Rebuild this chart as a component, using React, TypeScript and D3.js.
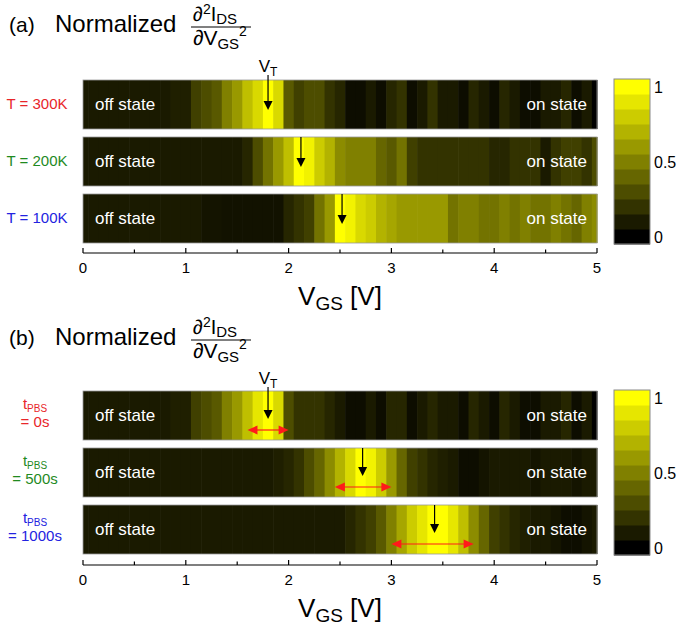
import React from "react";
import * as d3 from "d3";

// ---- data ----
const VGS: number[] = d3.range(51).map((i) => i / 10); // column centres, 0.0 .. 5.0 V

const T300 = [0.1,0.1,0.1,0.1,0.1,0.1,0.1,0.1,0.1,0.12, 0.12,0.25,0.3,0.35,0.5,0.6,0.75,0.85,1.0,0.85, 0.35,0.25,0.3,0.3,0.2,0.15,0.05,0.05,0.1,0.05, 0.15,0.2,0.05,0.1,0.2,0.1,0.1,0.05,0.15,0.1, 0.05,0.15,0.1,0.05,0.05,0.1,0.1,0.15,0.05,0.1,0.0];
const T200 = [0.1,0.1,0.1,0.1,0.1,0.1,0.1,0.1,0.1,0.1, 0.1,0.1,0.1,0.1,0.1,0.1,0.15,0.3,0.45,0.6, 0.75,1.0,0.95,0.8,0.7,0.55,0.5,0.5,0.5,0.4, 0.35,0.45,0.25,0.2,0.2,0.2,0.2,0.2,0.2,0.2, 0.15,0.15,0.2,0.2,0.2,0.1,0.2,0.25,0.25,0.2,0.3];
const T100 = [0.1,0.1,0.1,0.1,0.1,0.1,0.1,0.1,0.1,0.1, 0.1,0.1,0.08,0.08,0.07,0.07,0.07,0.07,0.07,0.07, 0.15,0.2,0.25,0.45,0.6,1.0,0.95,0.85,0.8,0.7, 0.65,0.6,0.6,0.6,0.6,0.6,0.45,0.5,0.5,0.45, 0.45,0.5,0.45,0.5,0.45,0.45,0.5,0.45,0.4,0.5,0.55];

const P0 = [0.1,0.1,0.1,0.1,0.1,0.1,0.1,0.1,0.1,0.12, 0.12,0.25,0.3,0.35,0.5,0.6,0.75,0.9,1.0,0.85, 0.3,0.2,0.2,0.2,0.15,0.1,0.05,0.05,0.1,0.05, 0.15,0.15,0.05,0.1,0.15,0.1,0.1,0.05,0.15,0.1, 0.05,0.15,0.1,0.05,0.05,0.1,0.1,0.15,0.05,0.1,0.0];
const P500 = [0.1,0.1,0.1,0.1,0.1,0.1,0.1,0.1,0.1,0.1, 0.1,0.1,0.1,0.1,0.1,0.1,0.1,0.1,0.1,0.12, 0.15,0.2,0.3,0.4,0.55,0.7,0.85,1.0,0.95,0.8, 0.6,0.4,0.25,0.2,0.15,0.12,0.1,0.05,0.05,0.08, 0.1,0.1,0.1,0.1,0.08,0.1,0.1,0.1,0.08,0.1,0.1];
const P1000 = [0.1,0.1,0.1,0.1,0.1,0.1,0.1,0.1,0.1,0.1, 0.1,0.1,0.1,0.1,0.1,0.1,0.1,0.1,0.1,0.1, 0.1,0.1,0.1,0.1,0.1,0.1,0.15,0.2,0.25,0.35, 0.5,0.65,0.8,0.9,1.0,1.0,0.9,0.75,0.55,0.4, 0.25,0.2,0.15,0.12,0.1,0.1,0.08,0.05,0.05,0.08,0.1];

const rowsA = [
  { label: "T = 300K", color: "#e8262a", values: T300, vt: 1.8 },
  { label: "T = 200K", color: "#1f8a1f", values: T200, vt: 2.12 },
  { label: "T = 100K", color: "#2323e0", values: T100, vt: 2.52 },
];
const rowsB = [
  { label: "= 0s", color: "#e8262a", values: P0, vt: 1.8, range: [1.6, 2.0] },
  { label: "= 500s", color: "#1f8a1f", values: P500, vt: 2.72, range: [2.45, 3.0] },
  { label: "= 1000s", color: "#2323e0", values: P1000, vt: 3.42, range: [3.0, 3.8] },
];
const majorTicks = [0, 1, 2, 3, 4, 5];
const minorTicks = [0.5, 1.5, 2.5, 3.5, 4.5];
const cbarLevels = d3.range(11).map((i) => i / 10);
const cbarLabels = [0, 0.5, 1];

// ---- layout ----
const FONT = "'Liberation Sans', Arial, Helvetica, sans-serif";
const x = d3.scaleLinear().domain([0, 5]).range([83, 597]);
const color = d3.scaleLinear<string>().domain([0, 1]).range(["#000000", "#ffff00"]).clamp(true);
const STRIP_H = 49;
const STRIP_GAP = 57;
const CB_X = 614, CB_W = 36;

function Strip({ values, top }: { values: number[]; top: number }) {
  return (
    <g>
      {VGS.map((v, i) => {
        const x0 = x(Math.max(0, v - 0.05));
        const x1 = x(Math.min(5, v + 0.05));
        return <rect key={i} x={x0} y={top} width={x1 - x0 + 0.6} height={STRIP_H} fill={color(values[i])} />;
      })}
      <rect x={x(0)} y={top} width={x(5) - x(0)} height={STRIP_H} fill="none" stroke="#9a9a9a" strokeWidth={0.8} />
      <text x={x(0) + 12} y={top + 30} fill="#fff" fontSize={17} fontFamily={FONT}>off state</text>
      <text x={x(5) - 10} y={top + 30} fill="#fff" fontSize={17} fontFamily={FONT} textAnchor="end">on state</text>
    </g>
  );
}

function DownArrow({ xv, y0, y1 }: { xv: number; y0: number; y1: number }) {
  const cx = x(xv);
  return (
    <g>
      <line x1={cx} x2={cx} y1={y0} y2={y1 - 8} stroke="#000" strokeWidth={1.2} />
      <path d={`M${cx - 4.5},${y1 - 9} L${cx + 4.5},${y1 - 9} L${cx},${y1} Z`} fill="#000" />
    </g>
  );
}

function RedRange({ r, y }: { r: number[]; y: number }) {
  const a = x(r[0]), b = x(r[1]);
  return (
    <g>
      <line x1={a + 8} x2={b - 8} y1={y} y2={y} stroke="#ff1a1a" strokeWidth={1.2} />
      <path d={`M${a},${y} L${a + 10},${y - 4.5} L${a + 10},${y + 4.5} Z`} fill="#ff1a1a" />
      <path d={`M${b},${y} L${b - 10},${y - 4.5} L${b - 10},${y + 4.5} Z`} fill="#ff1a1a" />
    </g>
  );
}

function Axis({ y }: { y: number }) {
  return (
    <g>
      <line x1={x(0)} x2={x(5)} y1={y} y2={y} stroke="#000" strokeWidth={1.2} />
      {majorTicks.map((t) => (
        <g key={t}>
          <line x1={x(t)} x2={x(t)} y1={y} y2={y - 5} stroke="#000" strokeWidth={1.2} />
          <text x={x(t)} y={y + 20} textAnchor="middle" fontSize={15} fontFamily={FONT}>{t}</text>
        </g>
      ))}
      {minorTicks.map((t) => (
        <line key={t} x1={x(t)} x2={x(t)} y1={y} y2={y - 3.5} stroke="#000" strokeWidth={1.2} />
      ))}
      <text x={x(2.5)} y={y + 52} textAnchor="middle" fontSize={26} fontFamily={FONT}>
        V<tspan fontSize={19} dy={5}>GS</tspan><tspan dy={-5}> [V]</tspan>
      </text>
    </g>
  );
}

function ColorBar({ top, bottom }: { top: number; bottom: number }) {
  const bh = (bottom - top) / cbarLevels.length;
  return (
    <g>
      {cbarLevels.map((l, i) => (
        <rect key={i} x={CB_X} y={bottom - (i + 1) * bh} width={CB_W} height={bh + 0.5} fill={color(l)} />
      ))}
      <rect x={CB_X} y={top} width={CB_W} height={bottom - top} fill="none" stroke="#8a8a8a" strokeWidth={1} />
      {cbarLabels.map((l) => {
        const yy = bottom - bh / 2 - l * (bottom - top - bh);
        return (
          <text key={l} x={CB_X + 40} y={yy + 6} fontSize={16} fontFamily={FONT}>{l}</text>
        );
      })}
    </g>
  );
}

function Title({ letter, dy }: { letter: string; dy: number }) {
  return (
    <g transform={`translate(0,${dy})`}>
      <text x={9} y={32} fontSize={21} fontFamily={FONT}>({letter})</text>
      <text x={55} y={32} fontSize={24} fontFamily={FONT}>Normalized</text>
      <text x={193} y={21} fontSize={20} fontFamily={FONT}>
        ∂<tspan fontSize={14} dy={-7}>2</tspan><tspan dy={7}>I</tspan><tspan fontSize={15} dy={3}>DS</tspan>
      </text>
      <line x1={191} x2={251} y1={27} y2={27} stroke="#000" strokeWidth={1} />
      <text x={193} y={45} fontSize={21} fontFamily={FONT}>
        ∂V<tspan fontSize={15} dy={4}>GS</tspan><tspan fontSize={14} dy={-13}>2</tspan>
      </text>
    </g>
  );
}

function VTLabel({ xv, y }: { xv: number; y: number }) {
  return (
    <text x={x(xv)} y={y} textAnchor="middle" fontSize={17} fontFamily={FONT}>
      V<tspan fontSize={12} dy={4}>T</tspan>
    </text>
  );
}

export default function App() {
  const topsA = rowsA.map((_, i) => 80 + i * STRIP_GAP);
  const topsB = rowsB.map((_, i) => 391 + i * STRIP_GAP);
  return (
    <svg width={685} height={625} style={{ position: "absolute", left: 0, top: 0, background: "#fff" }}>
      {/* panel a */}
      <Title letter="a" dy={0} />
      <VTLabel xv={rowsA[0].vt} y={72} />
      {rowsA.map((r, i) => (
        <g key={i}>
          <Strip values={r.values} top={topsA[i]} />
          <text x={37} y={topsA[i] + 29} textAnchor="middle" fontSize={15} fill={r.color} fontFamily={FONT}>{r.label}</text>
        </g>
      ))}
      {rowsA.map((r, i) => (
        <DownArrow key={i} xv={r.vt} y0={i === 0 ? 75 : topsA[i]} y1={topsA[i] + 30} />
      ))}
      <ColorBar top={79} bottom={244} />
      <Axis y={253} />

      {/* panel b */}
      <Title letter="b" dy={313} />
      <VTLabel xv={rowsB[0].vt} y={384} />
      {rowsB.map((r, i) => (
        <g key={i}>
          <Strip values={r.values} top={topsB[i]} />
          <text x={35} y={topsB[i] + 18} textAnchor="middle" fontSize={15} fill={r.color} fontFamily={FONT}>
            t<tspan fontSize={10} dy={3}>PBS</tspan>
          </text>
          <text x={35} y={topsB[i] + 36} textAnchor="middle" fontSize={15} fill={r.color} fontFamily={FONT}>{r.label}</text>
        </g>
      ))}
      {rowsB.map((r, i) => (
        <g key={i}>
          <DownArrow xv={r.vt} y0={i === 0 ? 387 : topsB[i]} y1={topsB[i] + 28} />
          <RedRange r={r.range} y={topsB[i] + 39} />
        </g>
      ))}
      <ColorBar top={390} bottom={555} />
      <Axis y={565} />
    </svg>
  );
}
